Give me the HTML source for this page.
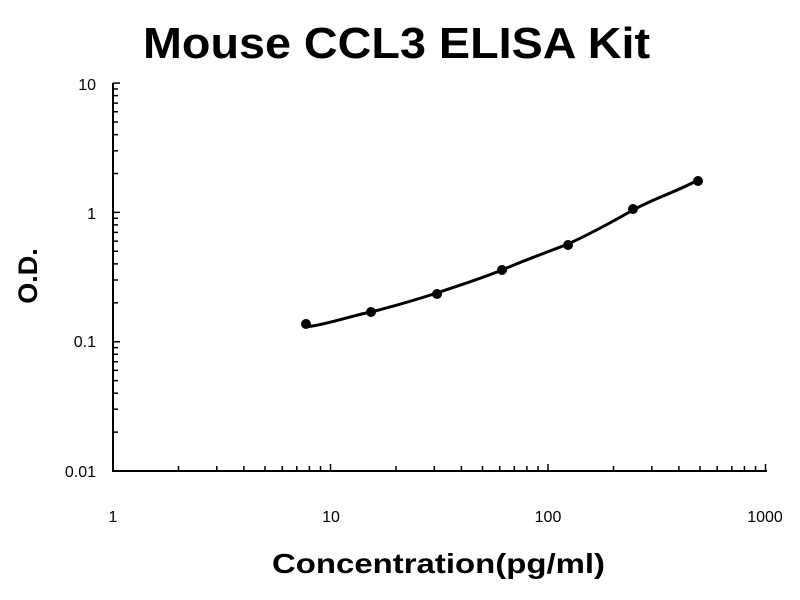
<!DOCTYPE html><html><head><style>body{margin:0;background:#fff}svg{display:block}text{font-family:"Liberation Sans",Arial,sans-serif}</style></head><body>
<svg width="800" height="600" xmlns="http://www.w3.org/2000/svg">
<text x="143" y="58" textLength="507" lengthAdjust="spacingAndGlyphs" font-size="44" font-weight="bold">Mouse CCL3 ELISA Kit</text>
<path d="M113 83 V471 H767" stroke="#000" stroke-width="2" fill="none"/>
<path stroke="#000" stroke-width="1.5" fill="none" d="
M113 432.1h5M113 409.3h5M113 393.2h5M113 380.6h5M113 370.4h5M113 361.7h5M113 354.2h5M113 347.6h5M113 341.7h7
M113 302.8h5M113 280h5M113 263.9h5M113 251.3h5M113 241.1h5M113 232.4h5M113 224.9h5M113 218.3h5M113 212.4h7
M113 173.5h5M113 150.7h5M113 134.6h5M113 122h5M113 111.8h5M113 103.1h5M113 95.6h5M113 89h5M113 83.1h7
M178.5 471v-5M216.8 471v-5M243.9 471v-5M265 471v-5M282.2 471v-5M296.8 471v-5M309.4 471v-5M320.5 471v-5M330.5 471v-7
M396 471v-5M434.3 471v-5M461.4 471v-5M482.5 471v-5M499.7 471v-5M514.3 471v-5M526.9 471v-5M538 471v-5M548 471v-7
M613.5 471v-5M651.8 471v-5M678.9 471v-5M700 471v-5M717.2 471v-5M731.8 471v-5M744.4 471v-5M755.5 471v-5M765.5 471v-7"/>
<g font-size="16" text-anchor="end">
<text x="96" y="90">10</text><text x="96" y="219">1</text><text x="96" y="347">0.1</text><text x="96" y="477">0.01</text>
</g>
<g font-size="16" text-anchor="middle">
<text x="113" y="522">1</text><text x="331" y="522">10</text><text x="548" y="522">100</text><text x="765" y="522">1000</text>
</g>
<text x="272" y="573" textLength="333" lengthAdjust="spacingAndGlyphs" font-size="28" font-weight="bold">Concentration(pg/ml)</text>
<text transform="translate(37 276) rotate(-90)" text-anchor="middle" font-size="27" font-weight="bold">O.D.</text>
<path d="M306 327 C330 324 350 316 371 312 C395 306 415 300 437 293 C460 285 480 279 502 270 C525 260 545 253 568 244 C590 234 612 222 633 210 C655 198 676 192 698 180" stroke="#000" stroke-width="3" fill="none"/>
<g fill="#000">
<circle cx="306" cy="324" r="5"/><circle cx="371" cy="312" r="5"/><circle cx="437" cy="294" r="5"/><circle cx="502" cy="270" r="5"/><circle cx="568" cy="245" r="5"/><circle cx="633" cy="209" r="5"/><circle cx="698" cy="181" r="5"/>
</g>
</svg></body></html>
